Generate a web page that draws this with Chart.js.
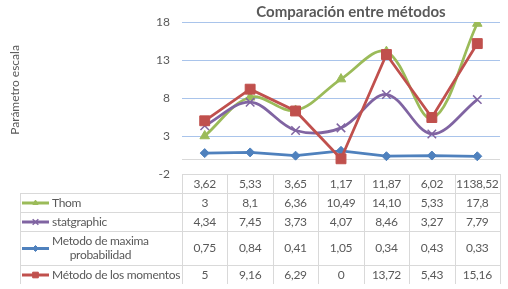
<!DOCTYPE html>
<html>
<head>
<meta charset="utf-8">
<script src="https://cdn.jsdelivr.net/npm/chart.js@4.4.0/dist/chart.umd.min.js"></script>
<style>
  body { margin: 0; background: #fff; }
  #wrap { width: 508px; height: 289px; }
</style>
</head>
<body>
<div id="wrap"><canvas id="grafico" width="508" height="289"></canvas></div>
<script>
// datos (como texto, igual que en la tabla)
const categorias = ['3,62', '5,33', '3,65', '1,17', '11,87', '6,02', '1138,52'];
const thom = ['3', '8,1', '6,36', '10,49', '14,10', '5,33', '17,8'];
const statgraphic = ['4,34', '7,45', '3,73', '4,07', '8,46', '3,27', '7,79'];
const maxProb = ['0,75', '0,84', '0,41', '1,05', '0,34', '0,43', '0,33'];
const momentos = ['5', '9,16', '6,29', '0', '13,72', '5,43', '15,16'];
const nombres = ['Thom', 'statgraphic', 'Metodo de maxima probabilidad', 'Método de los momentos'];
const ticksY = [-2, 3, 8, 13, 18];

const aNumero = t => parseFloat(t.replace(',', '.'));
const FUENTE = 'Lato';
const GRIS = '#595959';

function serie(nombre, textos, color, estilo, radio, tension, orden) {
  return {
    label: nombre,
    textos: textos,
    data: textos.map(aNumero),
    borderColor: color,
    backgroundColor: color,
    borderWidth: 2.75,
    pointStyle: estilo,
    pointRadius: radio,
    pointBorderWidth: estilo === 'crossRot' ? 1.5 : 1,
    pointBackgroundColor: color,
    pointBorderColor: color,
    tension: tension,
    order: orden
  };
}

// radio del marcador pequeño de la tabla
const radioClave = { triangle: 3, crossRot: 4, rectRot: 3, rect: 4 };

// partir texto en lineas segun el ancho disponible
function partir(ctx, texto, max) {
  const palabras = texto.split(' ');
  const lineas = [];
  let actual = '';
  palabras.forEach(p => {
    const prueba = actual ? actual + ' ' + p : p;
    if (ctx.measureText(prueba).width > max && actual) {
      lineas.push(actual);
      actual = p;
    } else {
      actual = prueba;
    }
  });
  lineas.push(actual);
  return lineas;
}

const tabla = {
  id: 'tabla',
  beforeDatasetsDraw(chart) {
    // eje horizontal en 0
    const { ctx, chartArea: a, scales: { y } } = chart;
    const y0 = Math.round(y.getPixelForValue(0)) + 0.5;
    ctx.save();
    ctx.strokeStyle = '#D9D9D9';
    ctx.lineWidth = 1;
    ctx.beginPath();
    ctx.moveTo(a.left, y0);
    ctx.lineTo(a.right, y0);
    ctx.stroke();
    ctx.restore();
  },
  afterDraw(chart) {
    const { ctx, chartArea: a, scales: { x } } = chart;
    const ancho = (a.right - a.left) / categorias.length;
    const izq = 20.5;
    const filas = [a.bottom, a.bottom + 19, a.bottom + 38, a.bottom + 57, a.bottom + 91, a.bottom + 110];

    ctx.save();
    ctx.strokeStyle = '#D9D9D9';
    ctx.lineWidth = 1;
    ctx.beginPath();
    filas.slice(0, 5).forEach((f, i) => {
      const yy = Math.round(f) + 0.5;
      ctx.moveTo(i === 0 ? a.left : izq, yy);
      ctx.lineTo(a.right, yy);
    });
    ctx.moveTo(izq, filas[1]);
    ctx.lineTo(izq, filas[5]);
    for (let k = 0; k <= categorias.length; k++) {
      const xx = Math.round(a.left + k * ancho) + 0.5;
      ctx.moveTo(xx, filas[0]);
      ctx.lineTo(xx, filas[5]);
    }
    ctx.stroke();

    ctx.fillStyle = GRIS;
    ctx.font = '12px ' + FUENTE;
    if ('letterSpacing' in ctx) ctx.letterSpacing = '-0.3px';
    ctx.textAlign = 'center';
    ctx.textBaseline = 'middle';
    categorias.forEach((c, i) => {
      ctx.fillText(c, x.getPixelForValue(i), (filas[0] + filas[1]) / 2 + 0.5);
    });

    chart.data.datasets.forEach((ds, r) => {
      const yc = (filas[r + 1] + filas[r + 2]) / 2 + 0.5;
      ds.textos.forEach((t, i) => {
        ctx.fillStyle = GRIS;
        ctx.textAlign = 'center';
        ctx.fillText(t, x.getPixelForValue(i), yc);
      });
      // clave de la leyenda
      ctx.strokeStyle = ds.borderColor;
      ctx.lineWidth = 3;
      ctx.beginPath();
      ctx.moveTo(22, yc);
      ctx.lineTo(49, yc);
      ctx.stroke();
      ctx.fillStyle = ds.borderColor;
      ctx.lineWidth = ds.pointStyle === 'crossRot' ? 1.5 : 1;
      Chart.helpers.drawPoint(ctx, {
        pointStyle: ds.pointStyle,
        radius: radioClave[ds.pointStyle],
        borderWidth: 1,
        rotation: 0
      }, 35.5, yc);
      // nombre
      ctx.fillStyle = GRIS;
      const lineas = partir(ctx, ds.label, 134);
      if (lineas.length === 1) {
        ctx.textAlign = 'left';
        ctx.fillText(lineas[0], 52, yc);
      } else {
        const centro = 52 + ctx.measureText(lineas[0]).width / 2;
        ctx.textAlign = 'center';
        lineas.forEach((l, j) => {
          ctx.fillText(l, centro, yc + (j - (lineas.length - 1) / 2) * 14);
        });
      }
    });

    // titulo
    ctx.fillStyle = GRIS;
    if ('letterSpacing' in ctx) ctx.letterSpacing = '0px';
    ctx.font = 'bold 15px ' + FUENTE;
    ctx.textAlign = 'center';
    ctx.fillText('Comparación entre métodos', 351, 12);

    // titulo del eje vertical
    ctx.translate(15, 90);
    ctx.rotate(-Math.PI / 2);
    ctx.font = '12px ' + FUENTE;
    ctx.fillText('Parámetro escala', 0, 0);
    ctx.restore();
  }
};

const ctx = document.getElementById('grafico').getContext('2d');
const grafico = new Chart(ctx, {
  type: 'line',
  data: {
    labels: categorias,
    datasets: [
      serie(nombres[0], thom, '#9BBB59', 'triangle', 5.5, 0.35, 3),
      serie(nombres[1], statgraphic, '#8064A2', 'crossRot', 6, 0.35, 2),
      serie(nombres[2], maxProb, '#4F81BD', 'rectRot', 4.5, 0, 1),
      serie(nombres[3], momentos, '#C0504D', 'rect', 7, 0, 0)
    ]
  },
  options: {
    responsive: false,
    animation: false,
    layout: { padding: { left: 142, right: 8, top: 22, bottom: 115 } },
    plugins: {
      legend: { display: false },
      tooltip: { enabled: false },
      title: { display: false }
    },
    scales: {
      x: {
        display: false,
        offset: true
      },
      y: {
        min: -2,
        max: 18,
        afterBuildTicks: s => { s.ticks = ticksY.map(v => ({ value: v })); },
        afterFit: s => { s.width = 40; },
        border: { display: false },
        grid: {
          drawTicks: false,
          color: c => (c.tick && c.tick.value === -2) ? '#D9D9D9' : '#A9C4EB'
        },
        ticks: {
          color: GRIS,
          padding: 12,
          font: { family: FUENTE, size: 12 }
        }
      }
    }
  },
  plugins: [tabla]
});
</script>
</body>
</html>
